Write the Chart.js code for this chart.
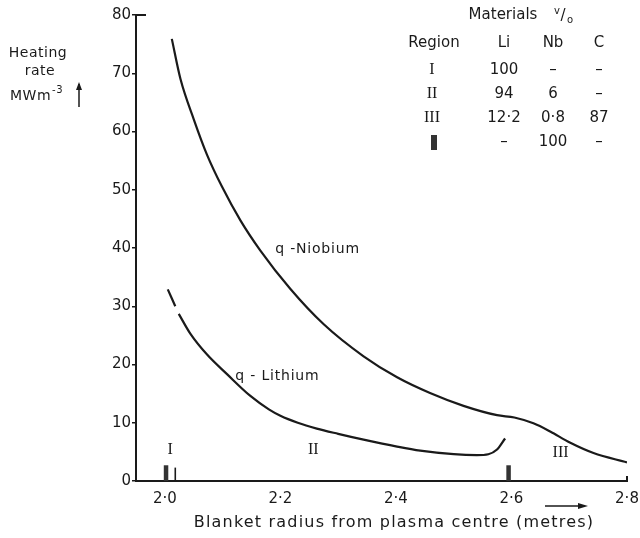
<!DOCTYPE html>
<html>
<head>
<meta charset="utf-8">
<script src="https://cdn.jsdelivr.net/npm/chart.js@4"></script>
<style>
  html, body { margin: 0; padding: 0; background: #fff; }
</style>
</head>
<body>
<canvas id="chart" width="640" height="538"></canvas>
<script>
// axis ticks
const xTicks = [2.0, 2.2, 2.4, 2.6, 2.8];
const yTicks = [0, 10, 20, 30, 40, 50, 60, 70, 80];

// q - Niobium curve
const niobiumX = [2.012, 2.027, 2.05, 2.073, 2.099, 2.131, 2.165, 2.217, 2.275, 2.344, 2.402, 2.459, 2.517, 2.575, 2.605, 2.638, 2.667, 2.701, 2.742, 2.8];
const niobiumY = [75.9, 69.0, 62.1, 56.0, 50.5, 44.7, 39.6, 33.0, 26.9, 21.4, 17.8, 15.1, 12.9, 11.3, 10.9, 9.9, 8.5, 6.6, 4.8, 3.2];

// q - Lithium curve, broken at the region I/II boundary
const lithiumX = [2.005, 2.018, 2.021, 2.024, 2.044, 2.073, 2.108, 2.148, 2.18, 2.2, 2.23, 2.263, 2.3, 2.344, 2.402, 2.442, 2.5, 2.54, 2.56, 2.575, 2.589];
const lithiumY = [32.9, 30.0, null, 28.7, 25.3, 21.7, 18.3, 14.6, 12.3, 11.2, 10.0, 9.0, 8.1, 7.1, 5.9, 5.2, 4.6, 4.45, 4.6, 5.4, 7.3];

// region boundary marks on the radius axis
const markX = [2.002, 2.018, 2.595];
const markTop = [2.7, 2.3, 2.7];
const markIsNb = [true, false, true];

// region labels
const regionNames = ['I', 'II', 'III'];
const regionX = [2.009, 2.257, 2.685];
const regionY = [5.3, 5.3, 4.8];

// curve labels
const curveLabels = ['q -Niobium', 'q - Lithium'];
const curveLabelX = [2.191, 2.122];
const curveLabelY = [39.7, 17.9];

// materials table
const tableHeader = ['Region', 'Li', 'Nb', 'C'];
const tableRegions = ['I', 'II', 'III', 'Nb'];
const tableLi = ['100', '94', '12·2', '–'];
const tableNb = ['–', '6', '0·8', '100'];
const tableC = ['–', '–', '87', '–'];

const INK = '#1a1a1a';
const SANS = '"DejaVu Sans", sans-serif';
const SERIF = '"Liberation Serif", serif';

function toPoints(xs, ys) {
    return xs.map((x, i) => ({x: x, y: ys[i]}));
}

const datasets = [{
    label: 'q - Niobium',
    data: toPoints(niobiumX, niobiumY),
    borderColor: INK,
    borderWidth: 2.2,
    pointRadius: 0,
    cubicInterpolationMode: 'monotone'
}, {
    label: 'q - Lithium',
    data: toPoints(lithiumX, lithiumY),
    borderColor: INK,
    borderWidth: 2.2,
    pointRadius: 0,
    spanGaps: false,
    cubicInterpolationMode: 'monotone'
}];

markX.forEach((x, i) => {
    datasets.push({
        label: 'mark' + i,
        data: [{x: x, y: 0}, {x: x, y: markTop[i]}],
        borderColor: markIsNb[i] ? '#333' : INK,
        borderWidth: markIsNb[i] ? 4.5 : 1.6,
        borderCapStyle: 'butt',
        pointRadius: 0
    });
});

const annotations = {
    id: 'annotations',
    afterDraw(chart) {
        const ctx = chart.ctx;
        const xs = chart.scales.x;
        const ys = chart.scales.y;
        const area = chart.chartArea;
        ctx.save();
        ctx.fillStyle = INK;
        ctx.strokeStyle = INK;

        // top corner tick of the y axis and end tick of the x axis
        ctx.lineWidth = 2;
        ctx.beginPath();
        ctx.moveTo(area.left, area.top);
        ctx.lineTo(area.left + 10, area.top);
        ctx.moveTo(area.right, area.bottom);
        ctx.lineTo(area.right, area.bottom - 5);
        ctx.stroke();

        // region labels
        ctx.font = '16px ' + SERIF;
        ctx.textAlign = 'center';
        ctx.textBaseline = 'middle';
        regionNames.forEach((t, i) => {
            ctx.fillText(t, xs.getPixelForValue(regionX[i]), ys.getPixelForValue(regionY[i]));
        });

        // curve labels
        ctx.font = '14px ' + SANS;
        ctx.textAlign = 'left';
        ctx.letterSpacing = '0.8px';
        curveLabels.forEach((t, i) => {
            ctx.fillText(t, xs.getPixelForValue(curveLabelX[i]), ys.getPixelForValue(curveLabelY[i]));
        });

        // y axis title
        ctx.font = '14px ' + SANS;
        ctx.letterSpacing = '0.5px';
        ctx.textAlign = 'center';
        ctx.fillText('Heating', 38, 53);
        ctx.fillText('rate', 40, 71);
        ctx.textAlign = 'left';
        ctx.fillText('MWm', 10, 96);
        const w = ctx.measureText('MWm').width;
        ctx.font = '10px ' + SANS;
        ctx.fillText('-3', 10 + w + 1, 90);
        ctx.lineWidth = 1.5;
        ctx.beginPath();
        ctx.moveTo(79, 107);
        ctx.lineTo(79, 84);
        ctx.stroke();
        ctx.beginPath();
        ctx.moveTo(79, 82);
        ctx.lineTo(76, 90);
        ctx.lineTo(82, 90);
        ctx.closePath();
        ctx.fill();

        // x axis title and arrow
        ctx.font = '16px ' + SANS;
        ctx.letterSpacing = '1.2px';
        ctx.textAlign = 'center';
        ctx.fillText('Blanket radius from plasma centre (metres)', 394, 523);
        ctx.letterSpacing = '0px';
        ctx.beginPath();
        ctx.moveTo(545, 506);
        ctx.lineTo(580, 506);
        ctx.stroke();
        ctx.beginPath();
        ctx.moveTo(588, 506);
        ctx.lineTo(578, 503);
        ctx.lineTo(578, 509);
        ctx.closePath();
        ctx.fill();

        // materials table
        ctx.font = '15px ' + SANS;
        ctx.textAlign = 'center';
        ctx.fillText('Materials', 503, 15);
        ctx.font = '10px ' + SANS;
        ctx.fillText('v', 557, 11);
        ctx.font = '15px ' + SANS;
        ctx.fillText('/', 563, 16);
        ctx.font = '10px ' + SANS;
        ctx.fillText('o', 570, 20);

        const colX = [434, 504, 553, 599];
        ctx.font = '15px ' + SANS;
        tableHeader.forEach((t, i) => ctx.fillText(t, colX[i], 43));
        tableRegions.forEach((r, i) => {
            const y = 70 + i * 24;
            if (r === 'Nb') {
                ctx.fillStyle = '#333';
                ctx.fillRect(colX[0] - 3, y - 7, 6, 15);
                ctx.fillStyle = INK;
            } else {
                ctx.font = '16px ' + SERIF;
                ctx.fillText(r, colX[0] - 2, y);
            }
            ctx.font = '15px ' + SANS;
            ctx.fillText(tableLi[i], colX[1], y);
            ctx.fillText(tableNb[i], colX[2], y);
            ctx.fillText(tableC[i], colX[3], y);
        });
        ctx.restore();
    }
};

const ctx = document.getElementById('chart').getContext('2d');
const chart = new Chart(ctx, {
    type: 'line',
    data: {datasets: datasets},
    options: {
        responsive: false,
        animation: false,
        devicePixelRatio: 1,
        layout: {padding: {top: 15, right: 13, left: 0, bottom: 0}},
        plugins: {
            legend: {display: false},
            tooltip: {enabled: false}
        },
        scales: {
            x: {
                type: 'linear',
                min: 1.95,
                max: 2.8,
                afterBuildTicks: (scale) => {
                    scale.ticks = xTicks.map(v => ({value: v}));
                },
                afterFit: (scale) => {
                    scale.height = 57;
                    scale.paddingRight = 0;
                    scale.paddingLeft = 0;
                },
                border: {display: true, color: INK, width: 2},
                grid: {display: true, drawOnChartArea: false, drawTicks: false},
                ticks: {
                    color: INK,
                    padding: 9,
                    maxRotation: 0,
                    font: {family: SANS, size: 15},
                    callback: (v) => v.toFixed(1).replace('.', '·')
                }
            },
            y: {
                min: 0,
                max: 80,
                afterBuildTicks: (scale) => {
                    scale.ticks = yTicks.map(v => ({value: v}));
                },
                afterFit: (scale) => { scale.width = 136; },
                border: {display: true, color: INK, width: 2},
                grid: {display: true, drawOnChartArea: false, tickLength: 4, color: INK, lineWidth: 1.5},
                ticks: {
                    color: INK,
                    padding: 1,
                    font: {family: SANS, size: 15}
                }
            }
        }
    },
    plugins: [annotations]
});
</script>
</body>
</html>
